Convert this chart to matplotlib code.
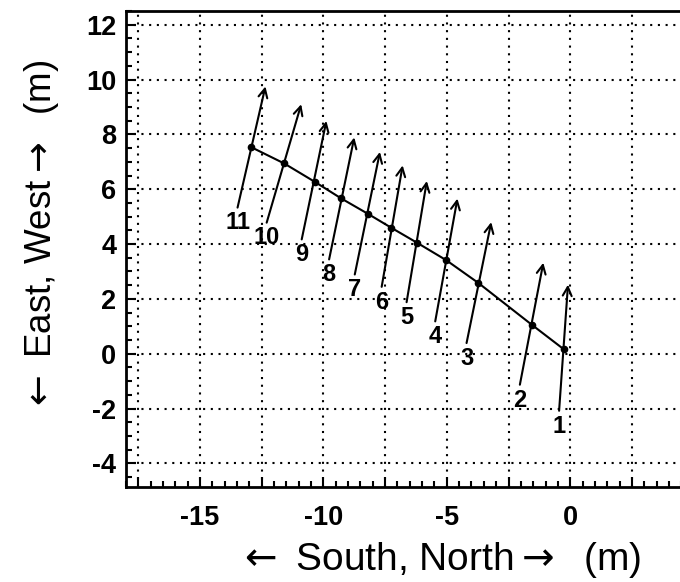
import matplotlib
matplotlib.use('Agg')
import matplotlib.pyplot as plt
from matplotlib.ticker import MultipleLocator, FuncFormatter

plt.rcParams['font.family'] = ['Liberation Sans', 'DejaVu Sans']
plt.rcParams['axes.unicode_minus'] = False

# station positions along the line (m)
pt_x = [-0.27, -1.56, -3.72, -5.02, -6.21, -7.26, -8.21, -9.29, -10.35, -11.59, -12.94]
pt_y = [0.17, 1.06, 2.58, 3.41, 4.05, 4.60, 5.11, 5.67, 6.27, 6.94, 7.54]

# arrow tails and heads (m)
tail_x = [-0.45, -2.04, -4.20, -5.47, -6.63, -7.64, -8.73, -9.77, -10.88, -12.30, -13.48]
tail_y = [-2.08, -1.13, 0.39, 1.18, 1.88, 2.44, 2.89, 3.44, 4.17, 4.78, 5.33]
head_x = [-0.09, -1.09, -3.20, -4.57, -5.81, -6.79, -7.71, -8.75, -9.88, -10.90, -12.35]
head_y = [2.52, 3.32, 4.80, 5.66, 6.30, 6.87, 7.36, 7.89, 8.49, 9.10, 9.75]

labels = ['1', '2', '3', '4', '5', '6', '7', '8', '9', '10', '11']

fig = plt.figure(figsize=(6.8, 5.82), dpi=100)
ax = fig.add_axes([0.1853, 0.1637, 0.8347, 0.8174])

# the line through the stations
ax.plot(pt_x, pt_y, color='black', lw=1.5, marker='o', markersize=4.5, zorder=3)

# arrows with their numbers
for i in range(len(labels)):
    ax.annotate('', xy=(head_x[i], head_y[i]), xytext=(tail_x[i], tail_y[i]),
                arrowprops=dict(arrowstyle='->', lw=1.5, color='black',
                                mutation_scale=16, shrinkA=0, shrinkB=0), zorder=4)
    ax.annotate(labels[i], xy=(tail_x[i], tail_y[i]), xytext=(0, -11),
                textcoords='offset points', ha='center', va='center',
                fontsize=17, fontweight='bold')

ax.set_xlim(-18, 5)
ax.set_ylim(-4.85, 12.5)

ax.xaxis.set_major_locator(MultipleLocator(2.5))
ax.xaxis.set_minor_locator(MultipleLocator(0.5))
ax.yaxis.set_major_locator(MultipleLocator(2))
ax.yaxis.set_minor_locator(MultipleLocator(0.5))
ax.xaxis.set_major_formatter(FuncFormatter(lambda v, p: '%d' % v if abs(v % 5) < 1e-6 and v <= 0 else ''))
ax.yaxis.set_major_formatter(FuncFormatter(lambda v, p: '%d' % round(v)))

ax.tick_params(which='both', direction='in', top=False, right=False, width=1.5)
ax.tick_params(which='major', length=7)
ax.tick_params(which='minor', length=4)
ax.tick_params(axis='x', pad=13, labelsize=19.5)
ax.tick_params(axis='y', pad=7, labelsize=19.5)
for lab in ax.get_xticklabels() + ax.get_yticklabels():
    lab.set_fontweight('bold')

ax.grid(True, which='major', color='black', lw=1.5, linestyle=(0, (1, 2.7)))

for s in ax.spines.values():
    s.set_linewidth(2)

ax.set_xlabel(r'$\leftarrow$ South, North$\rightarrow$  (m)', fontsize=28)
ax.set_ylabel(r'$\leftarrow$ East, West$\rightarrow$  (m)', fontsize=26.5)
ax.xaxis.set_label_coords(0.551, -0.154)
ax.yaxis.set_label_coords(-0.148, 0.527)
ax.xaxis.label.set_va('center')
ax.yaxis.label.set_va('center')

plt.savefig('out.png', dpi=100)
